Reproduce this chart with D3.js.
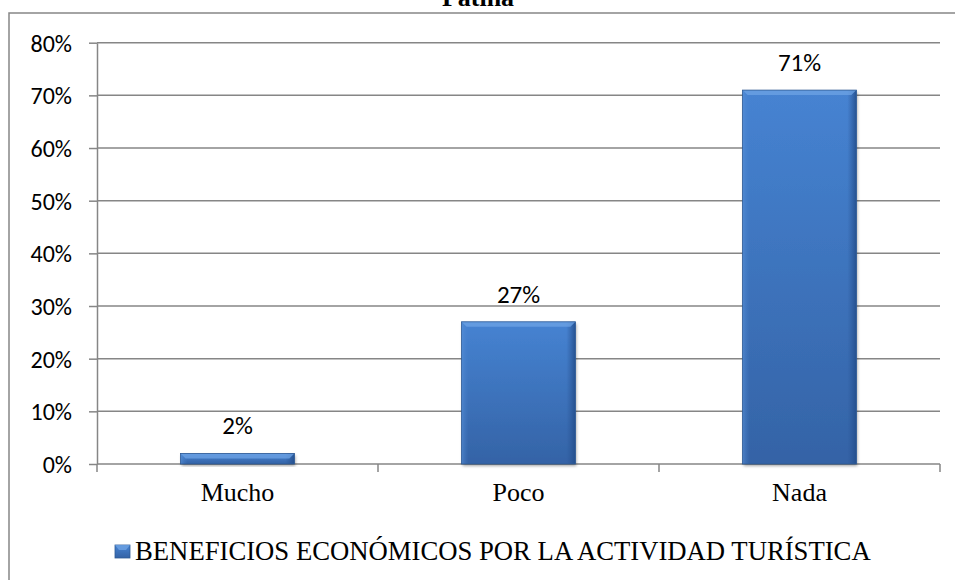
<!DOCTYPE html>
<html><head><meta charset="utf-8">
<script src="https://cdn.jsdelivr.net/npm/d3@7"></script>
<style>body{margin:0;background:#fff;}svg{display:block;}</style>
</head><body>
<script>
const categories = ["Mucho", "Poco", "Nada"];
const values = [0.02, 0.27, 0.71];
const valueLabels = ["2%", "27%", "71%"];
const yTicks = [0, 0.1, 0.2, 0.3, 0.4, 0.5, 0.6, 0.7, 0.8];
const seriesName = "BENEFICIOS ECONÓMICOS POR LA ACTIVIDAD TURÍSTICA";
const title = "Patina";

const SERIF = "'Liberation Serif', 'Times New Roman', serif";
const SANS = "Carlito, Lato, Calibri, sans-serif";

const W = 955, H = 580;
const svg = d3.select("body").append("svg").attr("width", W).attr("height", H);
const defs = svg.append("defs");
const g1 = defs.append("linearGradient").attr("id","barg").attr("x1",0).attr("y1",0).attr("x2",0).attr("y2",1);
g1.append("stop").attr("offset","0%").attr("stop-color","#4683d2");
g1.append("stop").attr("offset","100%").attr("stop-color","#3463a6");
const g2 = defs.append("linearGradient").attr("id","barh").attr("x1",0).attr("y1",0).attr("x2",1).attr("y2",0);
g2.append("stop").attr("offset","0%").attr("stop-color","#5a92d8").attr("stop-opacity",0.6);
g2.append("stop").attr("offset","6%").attr("stop-color","#4a84d0").attr("stop-opacity",0);
g2.append("stop").attr("offset","92%").attr("stop-color","#2a5596").attr("stop-opacity",0);
g2.append("stop").attr("offset","100%").attr("stop-color","#234d8a").attr("stop-opacity",0.9);
const f = defs.append("filter").attr("id","sh").attr("x","-10%").attr("y","-10%").attr("width","130%").attr("height","130%");
f.append("feDropShadow").attr("dx",1).attr("dy",2).attr("stdDeviation",1.5).attr("flood-color","#000").attr("flood-opacity",0.35);

// outer border
svg.append("rect").attr("x",9).attr("y",13).attr("width",950).attr("height",580)
  .attr("fill","none").attr("stroke","#868686").attr("stroke-width",1.5);

// title
svg.append("text").attr("x",478).attr("y",6).attr("text-anchor","middle")
  .style("font-family",SERIF).attr("font-weight","bold")
  .attr("font-size",26).text(title);

const left = 97, right = 940, top0 = 42.7, bottom = 464;
const x = d3.scaleBand().domain(categories).range([left, right]).paddingInner(0.595).paddingOuter(0.2975);
const xOuter = d3.scaleBand().domain(categories).range([left, right]);
const y = d3.scaleLinear().domain([0, 0.8]).range([bottom, top0]);

// gridlines
svg.append("g").selectAll("line").data(yTicks.slice(1)).join("line")
  .attr("x1", left).attr("x2", right).attr("y1", d=>y(d)).attr("y2", d=>y(d))
  .attr("stroke","#868686").attr("stroke-width",1.5);

// y axis
const yAxis = d3.axisLeft(y).tickValues(yTicks).tickFormat(d3.format(".0%")).tickSize(8).tickSizeOuter(0);
const ya = svg.append("g").attr("transform",`translate(${left},0)`).call(yAxis);
ya.attr("font-family", null).attr("font-size", null);
ya.select(".domain").attr("stroke","#868686").attr("stroke-width",1.5);
ya.selectAll(".tick line").attr("stroke","#868686").attr("stroke-width",1.5);
ya.selectAll(".tick text").style("font-family",SANS).style("font-size","24px")
  .attr("fill","#000").attr("x",-25).attr("dy","0.35em");

// x axis
svg.append("line").attr("x1",left).attr("x2",right).attr("y1",bottom).attr("y2",bottom)
  .attr("stroke","#868686").attr("stroke-width",1.5);
const xb = categories.map(c=>xOuter(c)).concat([right]);
svg.append("g").selectAll("line").data(xb).join("line")
  .attr("x1",d=>d).attr("x2",d=>d).attr("y1",bottom).attr("y2",bottom+8)
  .attr("stroke","#868686").attr("stroke-width",1.5);
svg.append("g").selectAll("text").data(categories).join("text")
  .attr("x", d=>xOuter(d)+xOuter.bandwidth()/2).attr("y", 501).attr("text-anchor","middle")
  .style("font-family",SERIF).style("font-size","26px").text(d=>d);

// bars
const bars = svg.append("g");
categories.forEach((c,i)=>{
  const bx = x(c), bw = x.bandwidth(), by = y(values[i]), bh = bottom - by;
  const gg = bars.append("g");
  gg.append("rect").attr("x",bx).attr("y",by).attr("width",bw).attr("height",bh)
    .attr("fill","url(#barg)").attr("filter","url(#sh)");
  gg.append("rect").attr("x",bx).attr("y",by).attr("width",bw).attr("height",bh).attr("fill","url(#barh)");
  const bev = Math.min(5, bh/2);
  gg.append("polygon").attr("points",`${bx},${by} ${bx+bw},${by} ${bx+bw-bev},${by+bev} ${bx+bev},${by+bev}`)
    .attr("fill","#6ea3e4").attr("opacity",0.75);
  gg.append("rect").attr("x",bx).attr("y",by).attr("width",bw).attr("height",bh)
    .attr("fill","none").attr("stroke","#2e5a95").attr("stroke-width",0.8);
  svg.append("text").attr("x",bx+bw/2).attr("y",by-19).attr("text-anchor","middle")
    .style("font-family",SANS).style("font-size","25px").text(valueLabels[i]);
});

// legend
svg.append("rect").attr("x",115).attr("y",545).attr("width",15).attr("height",13)
  .attr("fill","url(#barg)").attr("stroke","#2e5a95").attr("stroke-width",0.8);
svg.append("polygon").attr("points","115,545 130,545 126,550 119,550").attr("fill","#6ea3e4").attr("opacity",0.8);
svg.append("text").attr("x",135).attr("y",560)
  .style("font-family",SERIF).style("font-size","26.7px").text(seriesName);
</script>
</body></html>
